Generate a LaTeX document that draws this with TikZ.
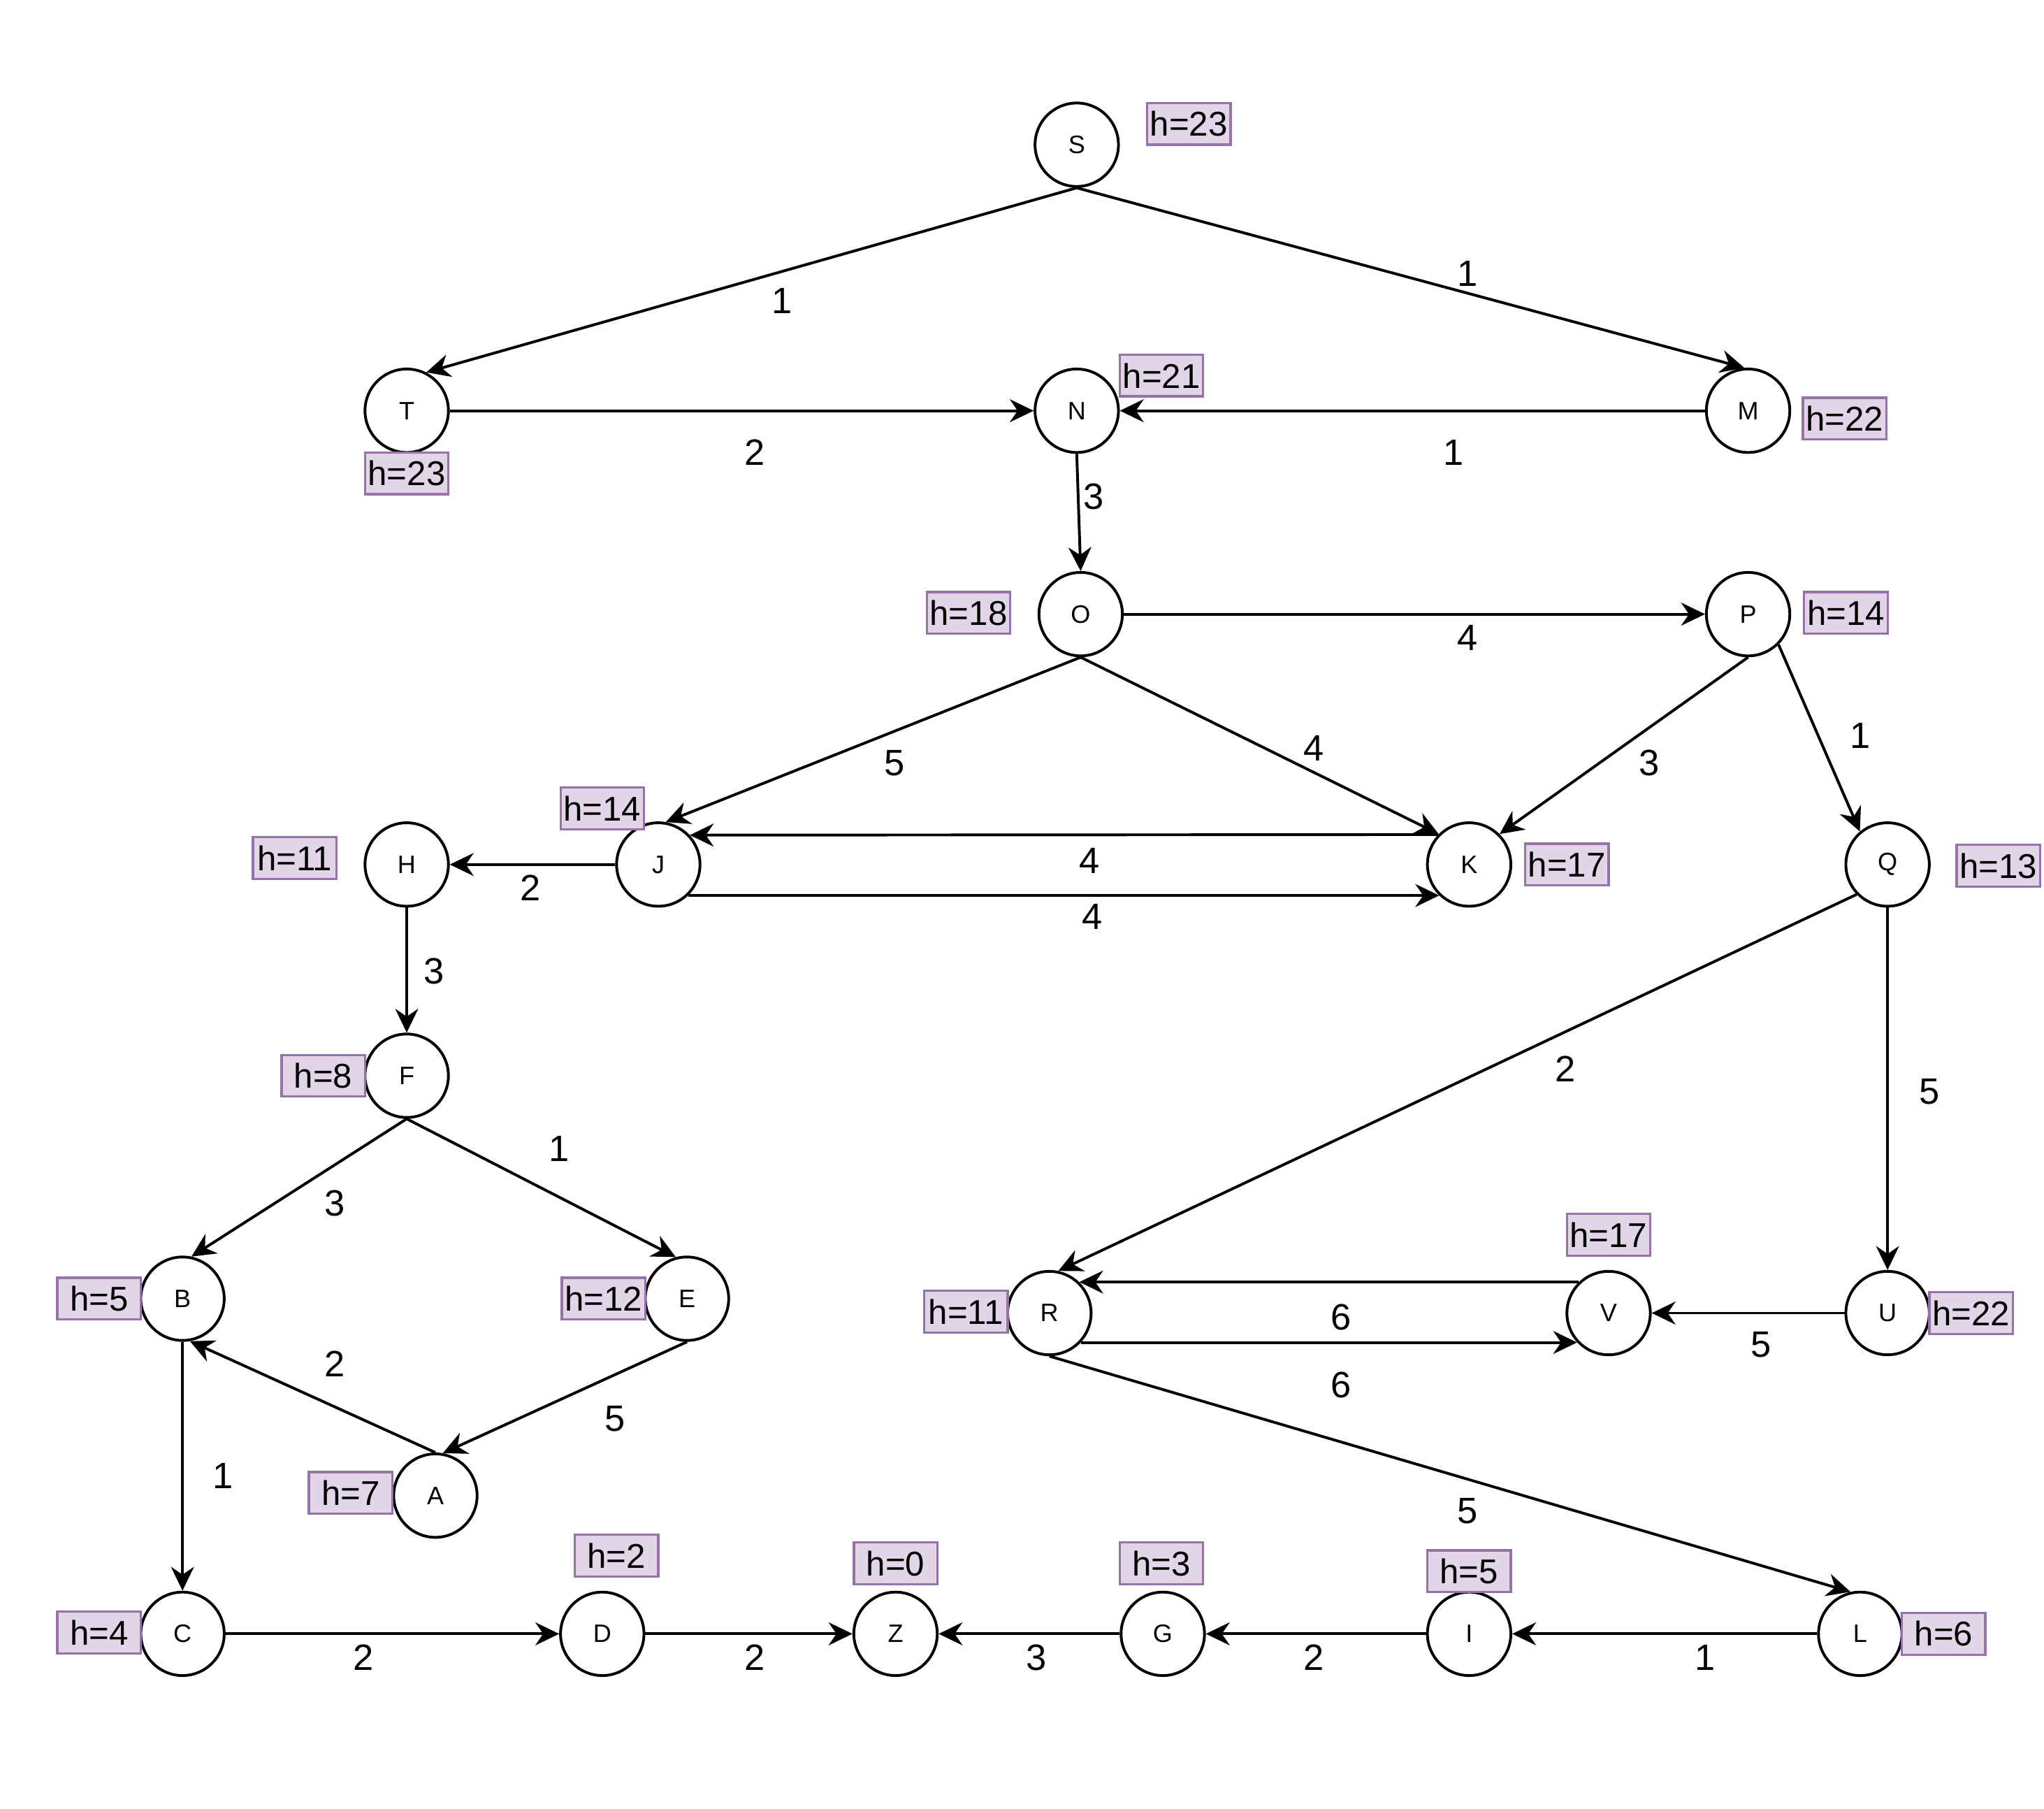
\documentclass[tikz,border=0pt]{standalone}
\usepackage{fontspec}
\setmainfont{Liberation Sans}
\usetikzlibrary{arrows.meta}
\definecolor{hfill}{HTML}{E1D5E7}
\definecolor{hline}{HTML}{9673A6}

\begin{document}
\begin{tikzpicture}[x=0.1mm,y=-0.1mm,
	st/.style={circle,draw,line width=0.6pt,minimum size=6.4mm,inner sep=0pt,font=\fontsize{5.5}{6}\selectfont},
	hbox/.style={draw=hline,fill=hfill,line width=0.5pt,minimum width=6.4mm,minimum height=3.2mm,inner sep=0pt,font=\fontsize{7.5}{8}\selectfont},
	wt/.style={font=\fontsize{8}{9}\selectfont},
	arr/.style={line width=0.6pt,-{Stealth[length=5.2pt,width=5pt,inset=1.7pt]}}]
			          %\draw[help lines] (0,0) grid[step=100] (1568,1387);
			          \useasboundingbox (0,0) rectangle (1568,1387);
			          % states
			          \node[st] (S) at (826,111) {S};
			          \node[st] (T) at (312,315) {T};
			          \node[st] (N) at (826,315) {N};
			          \node[st] (M) at (1341,315) {M};
			          \node[st] (O) at (829,471) {O};
			          \node[st] (P) at (1341,471) {P};
			          \node[st] (H) at (312,663) {H};
			          \node[st] (J) at (505,663) {J};
			          \node[st] (K) at (1127,663) {K};
			          \node[st] (Q) at (1448,663) {Q};
			          \node[st] (F) at (312,825) {F};
			          \node[st] (B) at (140,996) {B};
			          \node[st] (E) at (527,996) {E};
			          \node[st] (R) at (805,1007) {R};
			          \node[st] (V) at (1234,1007) {V};
			          \node[st] (U) at (1448,1007) {U};
			          \node[st] (A) at (334,1147) {A};
			          \node[st] (C) at (140,1253) {C};
			          \node[st] (D) at (462,1253) {D};
			          \node[st] (Z) at (687,1253) {Z};
			          \node[st] (G) at (892,1253) {G};
			          \node[st] (I) at (1127,1253) {I};
			          \node[st] (L) at (1427,1253) {L};
			          % heuristics
			          \node[hbox] (hS) at (912,95) {h=23};
			          \node[hbox] (hT) at (312,363) {h=23};
			          \node[hbox] (hN) at (891,288) {h=21};
			          \node[hbox] (hM) at (1415,321) {h=22};
			          \node[hbox] (hO) at (743,470) {h=18};
			          \node[hbox] (hP) at (1416,470) {h=14};
			          \node[hbox] (hJ) at (462,620) {h=14};
			          \node[hbox] (hH) at (226,658) {h=11};
			          \node[hbox] (hK) at (1202,663) {h=17};
			          \node[hbox] (hQ) at (1533,664) {h=13};
			          \node[hbox] (hF) at (248,825) {h=8};
			          \node[hbox] (hB) at (76,996) {h=5};
			          \node[hbox] (hE) at (463,996) {h=12};
			          \node[hbox] (hR) at (741,1006) {h=11};
			          \node[hbox] (hV) at (1234,947) {h=17};
			          \node[hbox] (hU) at (1512,1007) {h=22};
			          \node[hbox] (hA) at (269,1145) {h=7};
			          \node[hbox] (hC) at (76,1252) {h=4};
			          \node[hbox] (hD) at (473,1193) {h=2};
			          \node[hbox] (hZ) at (687,1199) {h=0};
			          \node[hbox] (hG) at (891,1199) {h=3};
			          \node[hbox] (hI) at (1127,1205) {h=5};
			          \node[hbox] (hL) at (1491,1253) {h=6};
			          % edges and costs
			          \draw[arr] (S.south) -- (T.63) node[wt] at (600,231) {1};
			          \draw[arr] (S.south) -- (M.95) node[wt] at (1126,210) {1};
			          \draw[arr] (T.east) -- (N.west) node[wt] at (579,347) {2};
			          \draw[arr] (M.west) -- (N.east) node[wt] at (1115,347) {1};
			          \draw[arr] (N.south) -- (O.north) node[wt] at (839,381) {3};
			          \draw[arr] (O.east) -- (P.west) node[wt] at (1126,489) {4};
			          \draw[arr] (O.south) -- (J.80) node[wt] at (686,585) {5};
			          \draw[arr] (O.south) -- (K.135) node[wt] at (1008,574) {4};
			          \draw[arr] (P.south) -- (K.45) node[wt] at (1265,585) {3};
			          \draw[arr] (P.-45) -- (Q.130) node[wt] at (1427,564) {1};
			          \draw[arr] (K.136.6) -- (J.43.4) node[wt] at (836,660) {4};
			          \draw[arr] (J.-46) -- (K.226) node[wt] at (838,703) {4};
			          \draw[arr] (J.west) -- (H.east) node[wt] at (407,681) {2};
			          \draw[arr] (H.south) -- (F.north) node[wt] at (333,745) {3};
			          \draw[arr] (F.south) -- (B.78) node[wt] at (257,923) {3};
			          \draw[arr] (F.south) -- (E.105) node[wt] at (429,881) {1};
			          \draw[arr] (E.south) -- (A.80) node[wt] at (472,1088) {5};
			          \draw[arr] (A.north) -- (B.-80) node[wt] at (257,1046) {2};
			          \draw[arr] (B.south) -- (C.north) node[wt] at (171,1132) {1};
			          \draw[arr] (C.east) -- (D.west) node[wt] at (279,1271) {2};
			          \draw[arr] (D.east) -- (Z.west) node[wt] at (579,1271) {2};
			          \draw[arr] (G.west) -- (Z.east) node[wt] at (795,1271) {3};
			          \draw[arr] (I.west) -- (G.east) node[wt] at (1008,1271) {2};
			          \draw[arr] (L.west) -- (I.east) node[wt] at (1308,1271) {1};
			          \draw[arr] (Q.224) -- (R.78) node[wt] at (1201,820) {2};
			          \draw[arr] (Q.south) -- (U.north) node[wt] at (1480,837) {5};
			          \draw[arr] (U.west) -- (V.east) node[wt] at (1351,1031) {5};
			          \draw[arr] (V.134) -- (R.46) node[wt] at (1029,1010) {6};
			          \draw[arr] (R.-43.4) -- (V.223.4) node[wt] at (1029,1062) {6};
			          \draw[arr] (R.south) -- (L.103) node[wt] at (1126,1159) {5};
\end{tikzpicture}
\end{document}
